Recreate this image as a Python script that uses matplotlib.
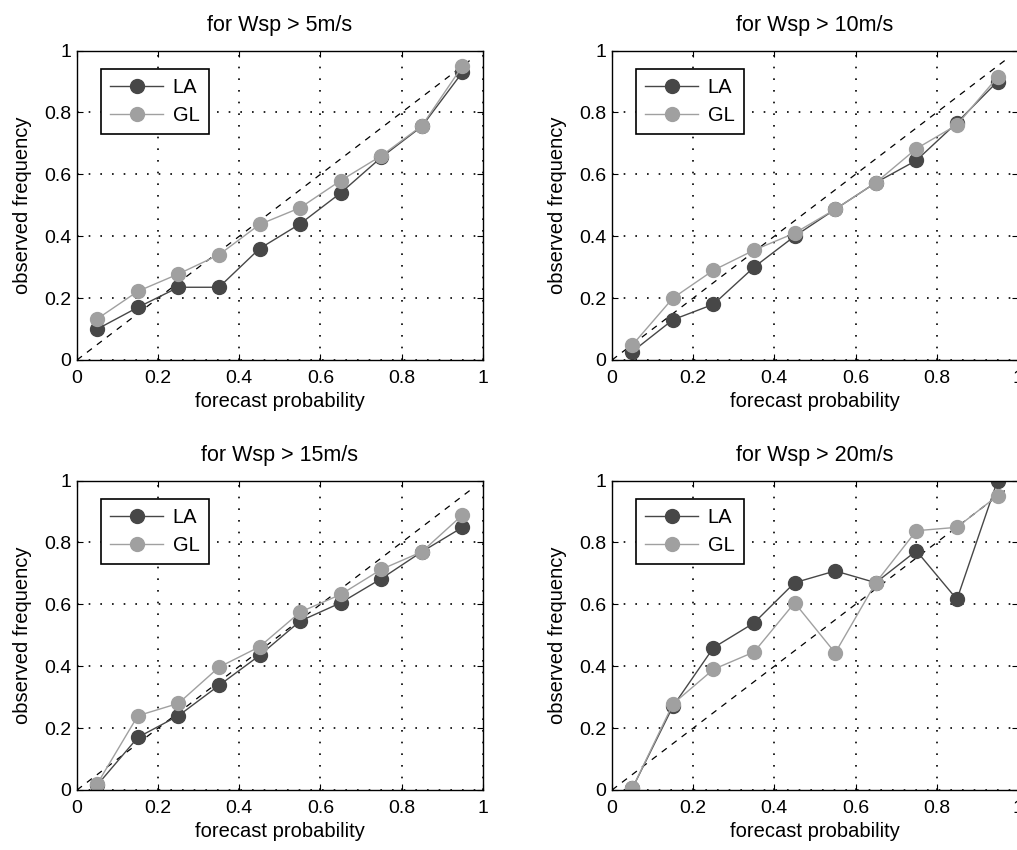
import matplotlib
matplotlib.use('Agg')
import matplotlib.pyplot as plt

plt.rcParams['font.family'] = ['Liberation Sans', 'DejaVu Sans']

# forecast probability bins
prob = [0.05, 0.15, 0.25, 0.35, 0.45, 0.55, 0.65, 0.75, 0.85, 0.95]

titles = ['for Wsp > 5m/s', 'for Wsp > 10m/s', 'for Wsp > 15m/s', 'for Wsp > 20m/s']

# observed frequency
la_5 = [0.10, 0.17, 0.235, 0.235, 0.36, 0.44, 0.54, 0.655, 0.755, 0.93]
gl_5 = [0.133, 0.222, 0.278, 0.34, 0.438, 0.492, 0.58, 0.66, 0.757, 0.95]
la_10 = [0.027, 0.13, 0.18, 0.30, 0.40, 0.487, 0.573, 0.645, 0.767, 0.90]
gl_10 = [0.048, 0.20, 0.29, 0.355, 0.41, 0.487, 0.573, 0.683, 0.76, 0.914]
la_15 = [0.016, 0.17, 0.24, 0.338, 0.435, 0.546, 0.605, 0.683, 0.77, 0.849]
gl_15 = [0.02, 0.24, 0.28, 0.397, 0.463, 0.575, 0.632, 0.713, 0.77, 0.889]
la_20 = [0.005, 0.27, 0.46, 0.54, 0.67, 0.708, 0.67, 0.773, 0.616, 1.0]
gl_20 = [0.005, 0.278, 0.39, 0.446, 0.605, 0.443, 0.67, 0.838, 0.849, 0.951]

la_all = [la_5, la_10, la_15, la_20]
gl_all = [gl_5, gl_10, gl_15, gl_20]

diag = [0, 0.97]
ticks = [0, 0.2, 0.4, 0.6, 0.8, 1]
tick_labels = ['0', '0.2', '0.4', '0.6', '0.8', '1']

fig = plt.figure(figsize=(10.17, 8.5), dpi=100)

# axes boxes in figure fraction (left, bottom, width, height)
lefts = [0.0757, 0.6018]
bottoms = [0.5765, 0.0706]
w = 0.399
h = 0.3640

for i in range(4):
    r, c = divmod(i, 2)
    ax = fig.add_axes([lefts[c], bottoms[r], w, h])
    ax.plot(diag, diag, '--', color='black', lw=0.9, dashes=(5, 5))
    ax.plot(prob, la_all[i], '-o', color='#474747', lw=1.0, ms=10, label='LA')
    ax.plot(prob, gl_all[i], '-o', color='#a0a0a0', lw=1.0, ms=10, label='GL')
    ax.set_xlim(0, 1)
    ax.set_ylim(0, 1)
    ax.set_xticks(ticks)
    ax.set_xticklabels(tick_labels)
    ax.set_yticks(ticks)
    ax.set_yticklabels(tick_labels)
    ax.grid(True, color='black', lw=1.2, dashes=(1, 6))
    ax.tick_params(direction='in', top=True, right=True, labelsize=14, length=4)
    ax.tick_params(axis='x', pad=7)
    ax.tick_params(axis='y', pad=4)
    for s in ax.spines.values():
        s.set_linewidth(1.0)
    ax.set_title(titles[i], fontsize=15.5, pad=14)
    ax.set_xlabel('forecast probability', fontsize=14.5, labelpad=4)
    ax.set_ylabel('observed frequency', fontsize=14.5, labelpad=9)
    leg = ax.legend(loc='upper left', bbox_to_anchor=(0.06, 0.942), borderaxespad=0,
                    fontsize=14.5, fancybox=False, framealpha=1, edgecolor='black',
                    handlelength=2.6, borderpad=0.45, labelspacing=0.45,
                    handletextpad=0.5)
    leg.get_frame().set_linewidth(1.2)

fig.savefig('out.png', dpi=100)
